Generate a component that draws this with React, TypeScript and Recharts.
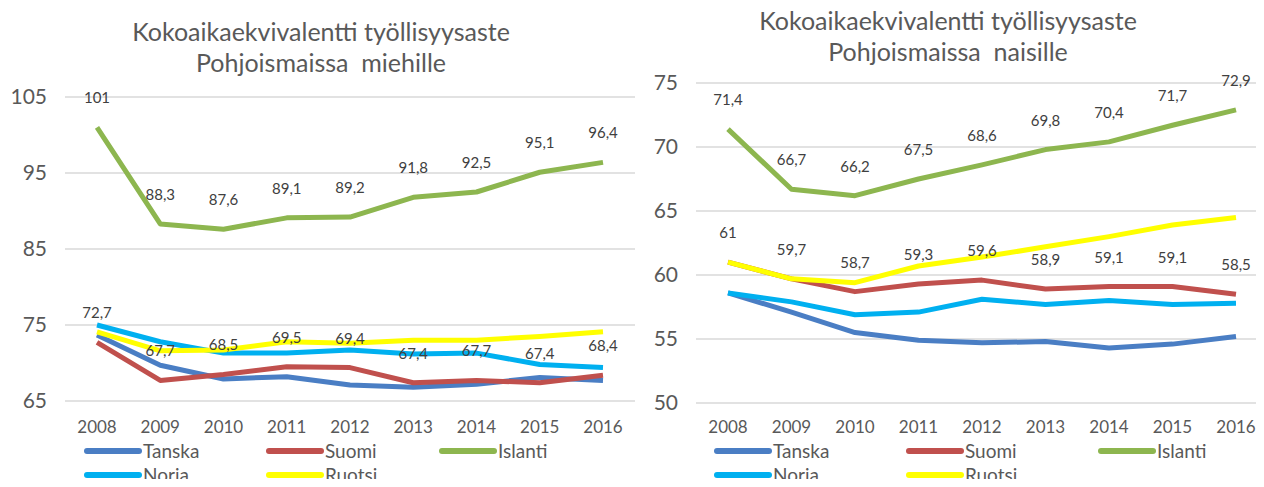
import React from "react";
import {
  LineChart,
  Line,
  XAxis,
  YAxis,
  CartesianGrid,
  Legend,
  LabelList,
} from "recharts";

const years = ["2008", "2009", "2010", "2011", "2012", "2013", "2014", "2015", "2016"];
const seriesNames = ["Tanska", "Suomi", "Islanti", "Norja", "Ruotsi"];
const seriesColors = ["#4A7EC4", "#C0504D", "#8DB64F", "#00B0F0", "#FFFF00"];

// miehet
const menTanska = [73.7, 69.7, 67.9, 68.2, 67.1, 66.8, 67.2, 68.1, 67.7];
const menSuomi = [72.7, 67.7, 68.5, 69.5, 69.4, 67.4, 67.7, 67.4, 68.4];
const menIslanti = [101, 88.3, 87.6, 89.1, 89.2, 91.8, 92.5, 95.1, 96.4];
const menNorja = [75.0, 72.8, 71.3, 71.3, 71.7, 71.2, 71.3, 69.8, 69.4];
const menRuotsi = [74.1, 71.6, 71.7, 72.8, 72.6, 73.0, 73.0, 73.5, 74.1];
const menTicks = [65, 75, 85, 95, 105];

// naiset
const womenTanska = [58.6, 57.1, 55.5, 54.9, 54.7, 54.8, 54.3, 54.6, 55.2];
const womenSuomi = [61, 59.7, 58.7, 59.3, 59.6, 58.9, 59.1, 59.1, 58.5];
const womenIslanti = [71.4, 66.7, 66.2, 67.5, 68.6, 69.8, 70.4, 71.7, 72.9];
const womenNorja = [58.6, 57.9, 56.9, 57.1, 58.1, 57.7, 58.0, 57.7, 57.8];
const womenRuotsi = [61.0, 59.7, 59.4, 60.7, 61.4, 62.2, 63.0, 63.9, 64.5];
const womenTicks = [50, 55, 60, 65, 70, 75];

const FONT = "Lato, 'Noto Sans', sans-serif";
const TEXT = "#595959";

function buildRows(cols: number[][]) {
  return years.map((year, i) => {
    const row: Record<string, string | number> = { year };
    seriesNames.forEach((name, s) => {
      row[name] = cols[s][i];
    });
    return row;
  });
}

const menData = buildRows([menTanska, menSuomi, menIslanti, menNorja, menRuotsi]);
const womenData = buildRows([womenTanska, womenSuomi, womenIslanti, womenNorja, womenRuotsi]);

const fmt = (v: number) => String(v).replace(".", ",");

const renderLabel = (props: any) => {
  const { x, y, value } = props;
  return (
    <text
      x={x}
      y={y - 30}
      textAnchor="middle"
      dominantBaseline="central"
      fontSize={15}
      fontFamily={FONT}
      fill="#404040"
    >
      {fmt(value)}
    </text>
  );
};

function makeLegend(colX: number[]) {
  return (props: any) => {
    const payload = [...(props.payload || [])].sort(
      (a: any, b: any) => seriesNames.indexOf(a.value) - seriesNames.indexOf(b.value)
    );
    return (
      <div style={{ position: "relative", width: 520, height: 44 }}>
        {payload.map((entry: any, i: number) => {
          const col = i < 3 ? i : i - 3;
          const row = i < 3 ? 0 : 1;
          return (
            <div
              key={entry.value}
              style={{
                position: "absolute",
                left: colX[col],
                top: row * 24,
                height: 19,
                lineHeight: "19px",
                display: "flex",
                alignItems: "center",
                fontFamily: FONT,
                fontSize: 19,
                color: TEXT,
                whiteSpace: "nowrap",
              }}
            >
              <svg width={58} height={10} style={{ marginRight: 1 }}>
                <line x1={3} y1={5} x2={55} y2={5} stroke={entry.color} strokeWidth={6} strokeLinecap="round" />
              </svg>
              {entry.value}
            </div>
          );
        })}
      </div>
    );
  };
}

type PanelProps = {
  data: Record<string, string | number>[];
  width: number;
  top: number;
  bottom: number;
  axisWidth: number;
  padRight: number;
  xMargin: number;
  domain: [number, number];
  ticks: number[];
  legendLeft: number;
  legendCols: number[];
};

function Panel(p: PanelProps) {
  return (
    <LineChart
      width={p.width}
      height={487}
      data={p.data}
      margin={{ top: p.top, right: 0, left: 0, bottom: p.bottom }}
    >
      <CartesianGrid vertical={false} stroke="#d9d9d9" strokeWidth={1.5} />
      <XAxis
        dataKey="year"
        axisLine={false}
        tickLine={false}
        tickMargin={p.xMargin}
        height={30}
        padding={{ left: 32, right: p.padRight }}
        interval={0}
        tick={{ fill: TEXT, fontSize: 17, fontFamily: FONT }}
      />
      <YAxis
        width={p.axisWidth}
        domain={p.domain}
        ticks={p.ticks}
        allowDataOverflow
        axisLine={false}
        tickLine={false}
        tickMargin={12}
        tick={{ fill: TEXT, fontSize: 21, fontFamily: FONT }}
      />
      <Legend
        layout="horizontal"
        verticalAlign="middle"
        align="center"
        wrapperStyle={{ top: 441, left: p.legendLeft, width: 520, height: 44 }}
        content={makeLegend(p.legendCols)}
      />
      {seriesNames.map((name, i) => (
        <Line
          key={name}
          type="linear"
          dataKey={name}
          stroke={seriesColors[i]}
          strokeWidth={5}
          strokeLinejoin="round"
          dot={false}
          activeDot={false}
          isAnimationActive={false}
        >
          {name === "Suomi" || name === "Islanti" ? (
            <LabelList dataKey={name} content={renderLabel} />
          ) : null}
        </Line>
      ))}
    </LineChart>
  );
}

const titleStyle: React.CSSProperties = {
  position: "absolute",
  textAlign: "center",
  fontFamily: FONT,
  fontSize: 25,
  lineHeight: "31px",
  color: TEXT,
  whiteSpace: "pre",
};

export default function App() {
  return (
    <div style={{ position: "relative", width: 1264, height: 487, margin: -8, overflow: "hidden", background: "#fff" }}>
      <div style={{ position: "absolute", left: 0, top: 0 }}>
        <Panel
          data={menData}
          width={635}
          top={97}
          bottom={56}
          axisWidth={65}
          padRight={32}
          xMargin={14}
          domain={[65, 105]}
          ticks={menTicks}
          legendLeft={84}
          legendCols={[0, 182, 355]}
        />
      </div>
      <div style={{ position: "absolute", left: 640, top: 0 }}>
        <Panel
          data={womenData}
          width={624}
          top={83}
          bottom={54}
          axisWidth={56}
          padRight={28}
          xMargin={12}
          domain={[50, 75]}
          ticks={womenTicks}
          legendLeft={74}
          legendCols={[0, 192, 384]}
        />
      </div>
      <div style={{ ...titleStyle, left: 121, width: 400, top: 16 }}>
        {"Kokoaikaekvivalentti työllisyysaste\nPohjoismaissa  miehille"}
      </div>
      <div style={{ ...titleStyle, left: 748, width: 400, top: 5 }}>
        {"Kokoaikaekvivalentti työllisyysaste\nPohjoismaissa  naisille"}
      </div>
    </div>
  );
}
